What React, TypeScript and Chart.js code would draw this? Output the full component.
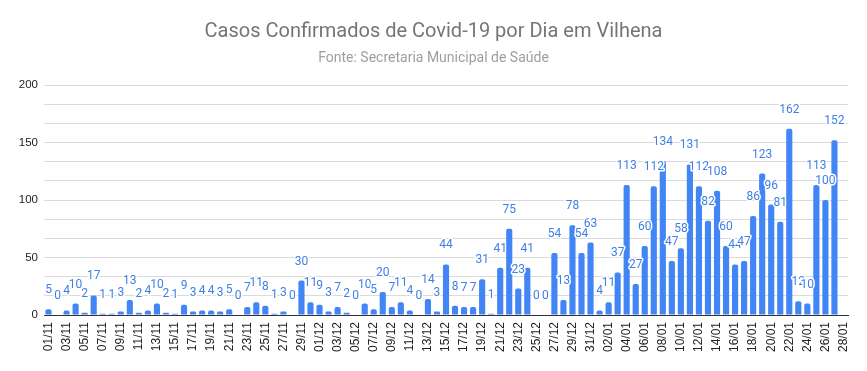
import React, { useEffect, useRef } from "react";
import { Chart, registerables } from "chart.js";

Chart.register(...registerables);

const TITLE = "Casos Confirmados de Covid-19 por Dia em Vilhena";
const SUBTITLE = "Fonte: Secretaria Municipal de Saúde";

// Daily confirmed cases
const novValues: (number | null)[] = [
  5, 0, 4, 10, 2, 17, 1, 1, 3, 13, 2, 4, 10, 2, 1, 9, 3, 4, 4, 3, 5, 0, 7, 11, 8, 1, 3, 0, 30, 11,
];
const decValues: (number | null)[] = [
  9, 3, 7, 2, 0, 10, 5, 20, 7, 11, 4, 0, 14, 3, 44, 8, 7, 7, 31, 1, 41, 75, 23, 41, 0, 0, 54, 13, 78, 54, 63,
];
const janValues: (number | null)[] = [
  4, 11, 37, 113, 27, 60, 112, 134, 47, 58, 131, 112, 82, 108, 60, 44, 47, 86, 123, 96, 81, 162, 12, 10, 113, 100, 152, null,
];

const months = [
  { month: "11", days: 30 },
  { month: "12", days: 31 },
  { month: "01", days: 28 },
];

const yTickLabels = [0, 50, 100, 150, 200];
const Y_MAX = 200;
const MINOR_DIVISIONS = 3;

const BAR_COLOR = "#4285F4";
const LABEL_COLOR = "#3f7fe6";

function buildCategories(): string[] {
  const out: string[] = [];
  months.forEach((m) => {
    for (let d = 1; d <= m.days; d++) {
      out.push(String(d).padStart(2, "0") + "/" + m.month);
    }
  });
  return out;
}

const categories = buildCategories();
const values = [...novValues, ...decValues, ...janValues];

const headerPlugin = {
  id: "header",
  beforeDraw(chart: any) {
    const ctx = chart.ctx;
    ctx.save();
    ctx.fillStyle = "#ffffff";
    ctx.fillRect(0, 0, chart.width, chart.height);
    ctx.textAlign = "center";
    ctx.textBaseline = "middle";
    ctx.fillStyle = "#757575";
    ctx.font = "20px Roboto";
    ctx.fillText(TITLE, chart.width / 2, 32);
    ctx.fillStyle = "#9e9e9e";
    ctx.font = "14px Roboto";
    ctx.fillText(SUBTITLE, chart.width / 2, 58);
    ctx.restore();
  },
};

const valueLabelPlugin = {
  id: "valueLabels",
  afterDatasetsDraw(chart: any) {
    const ctx = chart.ctx;
    const meta = chart.getDatasetMeta(0);
    const data = chart.data.datasets[0].data;
    ctx.save();
    ctx.font = "12px Roboto";
    ctx.textAlign = "center";
    ctx.textBaseline = "middle";
    ctx.lineJoin = "round";
    meta.data.forEach((bar: any, i: number) => {
      const v = data[i];
      if (v === null || v === undefined) return;
      const x = bar.x;
      const y = bar.y - 19;
      ctx.strokeStyle = "#ffffff";
      ctx.lineWidth = 3;
      ctx.strokeText(String(v), x, y);
      ctx.fillStyle = LABEL_COLOR;
      ctx.fillText(String(v), x, y);
    });
    ctx.restore();
  },
};

export default function App() {
  const canvasRef = useRef<HTMLCanvasElement | null>(null);

  useEffect(() => {
    if (!canvasRef.current) return;
    const chart = new Chart(canvasRef.current, {
      type: "bar",
      data: {
        labels: categories,
        datasets: [
          {
            data: values,
            backgroundColor: BAR_COLOR,
            borderRadius: 2,
            borderSkipped: "start",
            barPercentage: 0.68,
            categoryPercentage: 1,
          },
        ],
      },
      options: {
        animation: false,
        responsive: true,
        maintainAspectRatio: false,
        layout: { padding: { top: 85, right: 19, left: 0, bottom: 0 } },
        plugins: {
          legend: { display: false },
          tooltip: { enabled: false },
          title: { display: false },
        },
        scales: {
          x: {
            grid: { display: false, drawTicks: false },
            border: { display: true, color: "#333333", width: 1 },
            ticks: {
              autoSkip: false,
              minRotation: 90,
              maxRotation: 90,
              padding: 7,
              color: "#222222",
              font: { family: "'Liberation Sans', Arial", size: 12 },
              callback: (_v: any, i: number) => (i % 2 === 0 ? categories[i] : ""),
            },
            afterFit: (scale: any) => {
              scale.height = 56;
            },
          },
          y: {
            min: 0,
            max: Y_MAX,
            border: { display: false },
            grid: { color: "#dadada", drawTicks: false, lineWidth: 1 },
            ticks: {
              padding: 6,
              color: "#222222",
              font: { family: "'Liberation Sans', Arial", size: 11.5 },
              callback: (v: any) => {
                const n = Number(v);
                const match = yTickLabels.find((t) => Math.abs(t - n) < 1e-6);
                return match !== undefined ? String(match) : "";
              },
            },
            afterBuildTicks: (scale: any) => {
              const step = yTickLabels[1] / MINOR_DIVISIONS;
              const ticks: any[] = [];
              for (let i = 0; i * step <= Y_MAX + 1e-6; i++) {
                ticks.push({ value: i * step });
              }
              scale.ticks = ticks;
            },
            afterFit: (scale: any) => {
              scale.width = 44;
            },
          },
        },
      },
      plugins: [headerPlugin, valueLabelPlugin],
    });
    return () => chart.destroy();
  }, []);

  return (
    <div style={{ position: "absolute", left: 0, top: 0, width: 867, height: 371, background: "#fff" }}>
      <canvas ref={canvasRef} />
    </div>
  );
}
